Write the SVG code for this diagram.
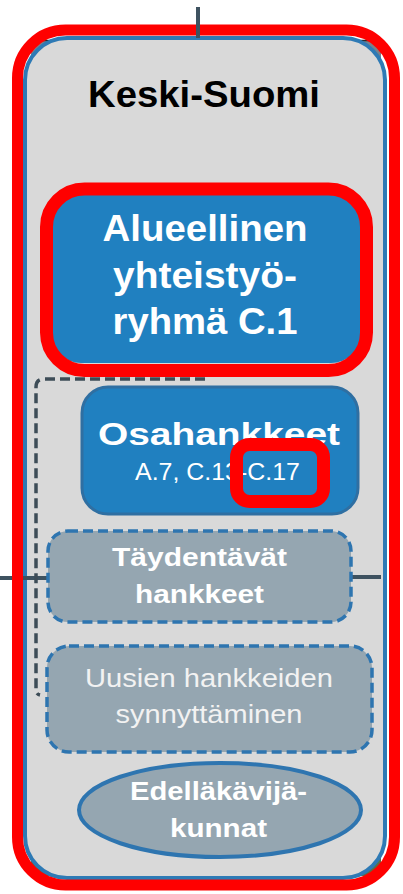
<svg xmlns="http://www.w3.org/2000/svg" width="403" height="894" viewBox="0 0 403 894">
<defs>
<linearGradient id="photo" x1="0" y1="0" x2="0" y2="1">
<stop offset="0" stop-color="#7c8189"/>
<stop offset="0.5" stop-color="#6f766e"/>
<stop offset="1" stop-color="#5d6e45"/>
</linearGradient>
</defs>
<style>
text{font-family:"Liberation Sans",Arial,sans-serif;fill:#ffffff;text-anchor:middle}
.b{font-weight:bold}
.blue{fill:#2080c0;stroke:#2f6fa2;stroke-width:3}
.gbox{fill:#95a6b1;stroke:#2e75b0;stroke-width:3.5;stroke-dasharray:10 5}
.conn{stroke:#3e5260;stroke-width:4;fill:none}
.hl{fill:none;stroke:#ff0000}
</style>
<rect x="31" y="40" width="350" height="836" fill="url(#photo)"/>
<line x1="31" y1="40.5" x2="381" y2="40.5" stroke="#2b2b2b" stroke-width="1.5"/>
<g id="keski-suomi">
<rect x="25" y="38" width="360" height="840" rx="42" fill="#d9d9d9" stroke="#2e7ab5" stroke-width="4"/>
<text x="204" y="107" class="b" style="fill:#000000;font-size:37px" textLength="232" lengthAdjust="spacingAndGlyphs">Keski-Suomi</text>
</g>
<g id="connectors">
<line class="conn" x1="0" y1="578" x2="48" y2="578"/>
<line class="conn" x1="350" y1="577" x2="381" y2="577"/>
<path d="M205,379 H44 Q36,379 36,387 V690 Q36,694 40,695" fill="none" stroke="#3d4c57" stroke-width="3.5" stroke-dasharray="10 5"/>
</g>
<rect x="17.5" y="30" width="377" height="855" rx="48" class="hl" stroke-width="11"/>
<line class="conn" x1="198" y1="7" x2="198" y2="38"/>
<g id="alueellinen">
<rect x="51" y="195" width="310" height="168" rx="30" fill="#2080c0"/>
<rect x="46.5" y="189" width="320" height="181.5" rx="38" class="hl" stroke-width="13"/>
<text x="205" y="241" class="b" style="font-size:37px" textLength="205" lengthAdjust="spacingAndGlyphs">Alueellinen</text>
<text x="205" y="288" class="b" style="font-size:37px" textLength="184" lengthAdjust="spacingAndGlyphs">yhteistyö-</text>
<text x="205" y="334" class="b" style="font-size:37px" textLength="185" lengthAdjust="spacingAndGlyphs">ryhmä C.1</text>
</g>
<g id="osahankkeet">
<rect x="82" y="387" width="276" height="127" rx="26" class="blue"/>
<text x="219" y="445" class="b" style="font-size:32px" textLength="242" lengthAdjust="spacingAndGlyphs">Osahankkeet</text>
<text x="217.5" y="480" style="font-size:24px" textLength="165" lengthAdjust="spacingAndGlyphs">A.7, C.13-C.17</text>
<rect x="236.5" y="444.5" width="87" height="57" rx="13" class="hl" stroke-width="13"/>
</g>
<g id="taydentavat">
<rect x="48" y="531" width="303" height="91" rx="20" class="gbox"/>
<text x="199.5" y="566" class="b" style="font-size:25px" textLength="175" lengthAdjust="spacingAndGlyphs">Täydentävät</text>
<text x="199.5" y="603" class="b" style="font-size:25px" textLength="129" lengthAdjust="spacingAndGlyphs">hankkeet</text>
</g>
<g id="uusien">
<rect x="47" y="646" width="325" height="106" rx="22" class="gbox"/>
<text x="209" y="687" style="font-size:26px;fill:#f2f2f2" textLength="248" lengthAdjust="spacingAndGlyphs">Uusien hankkeiden</text>
<text x="209" y="723" style="font-size:26px;fill:#f2f2f2" textLength="187" lengthAdjust="spacingAndGlyphs">synnyttäminen</text>
</g>
<g id="edellakavija">
<ellipse cx="220" cy="810" rx="141" ry="47" fill="#95a6b1" stroke="#2e75b0" stroke-width="4"/>
<text x="218.5" y="800" class="b" style="font-size:25px" textLength="177" lengthAdjust="spacingAndGlyphs">Edelläkävijä-</text>
<text x="218.5" y="837" class="b" style="font-size:25px" textLength="97" lengthAdjust="spacingAndGlyphs">kunnat</text>
</g>
</svg>
